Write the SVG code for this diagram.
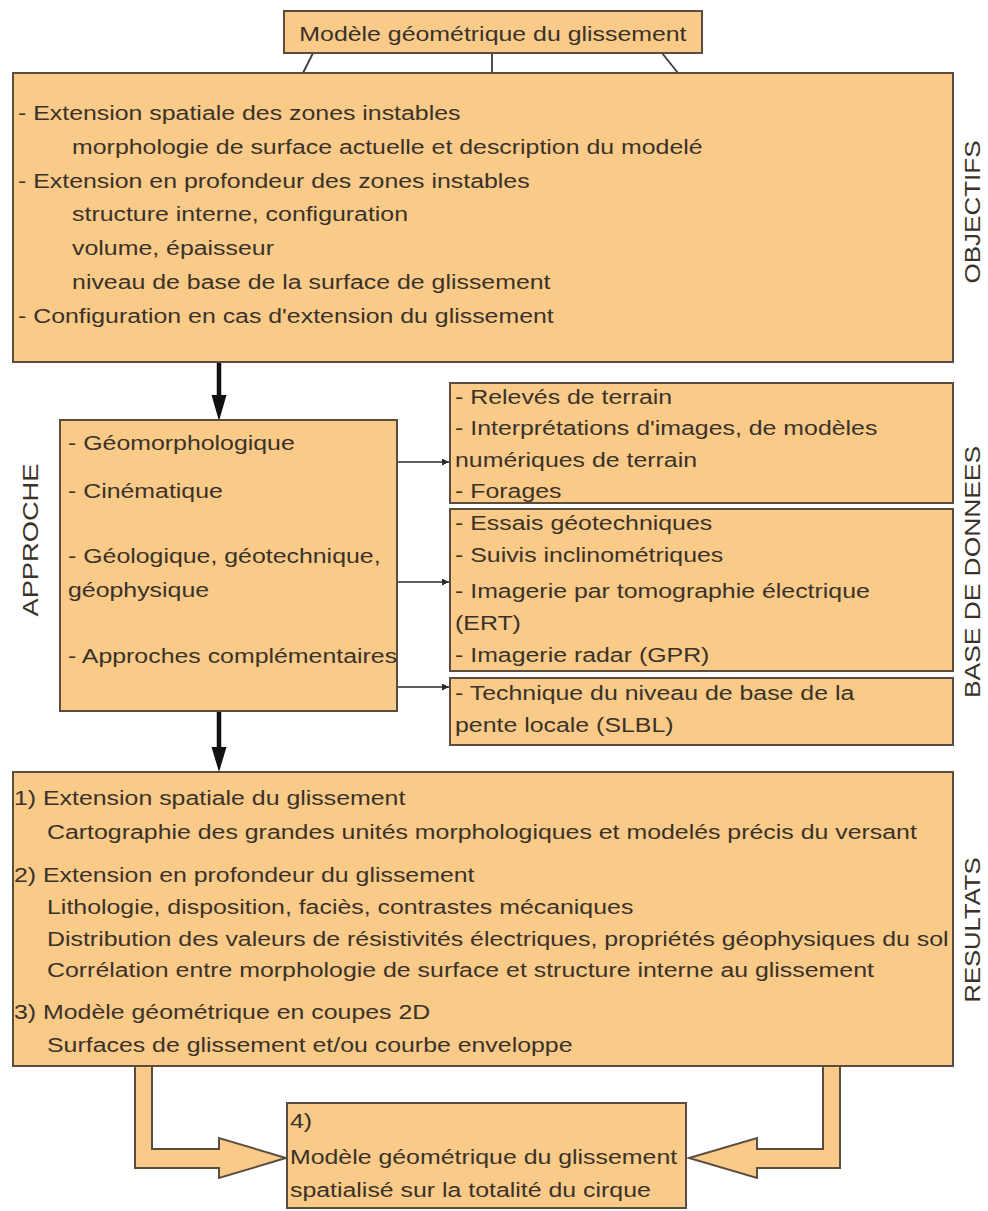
<svg xmlns="http://www.w3.org/2000/svg" width="988" height="1211" viewBox="0 0 988 1211">
<defs>
<style>
.box{fill:#F9CA88;stroke:#5a4c3e;stroke-width:2}
.t{font-family:"Liberation Sans",Arial,sans-serif;font-size:21px;fill:#3a3228}
.lbl{font-family:"Liberation Sans",Arial,sans-serif;font-size:22px;fill:#3a3228;text-anchor:middle}
.thin{stroke:#2a2a2a;stroke-width:1.6;fill:none}
.thick{stroke:#111;stroke-width:4.5;fill:none}
.tie{stroke:#3a3a3a;stroke-width:1.8;fill:none}
.hollow{fill:#F9CA88;stroke:#5a4c3e;stroke-width:2;stroke-linejoin:miter}
</style>
<marker id="ah" viewBox="0 0 10 10" refX="10" refY="5" markerWidth="10" markerHeight="7" markerUnits="userSpaceOnUse" orient="auto"><path d="M0,0 L10,5 L0,10 z" fill="#2a2a2a"/></marker>
</defs>
<rect width="988" height="1211" fill="#ffffff"/>

<g id="connectors">
<line class="tie" x1="313" y1="53" x2="303" y2="73"/>
<line class="tie" x1="492" y1="53" x2="492" y2="73"/>
<line class="tie" x1="662" y1="53" x2="678" y2="73"/>
<line class="thick" x1="219" y1="363" x2="219" y2="398"/>
<polygon points="211.5,395 226.5,395 219,421" fill="#111"/>
<line class="thick" x1="219" y1="711" x2="219" y2="750"/>
<polygon points="211.5,747 226.5,747 219,772" fill="#111"/>
<line class="thin" x1="375" y1="462" x2="449" y2="462" marker-end="url(#ah)"/>
<line class="thin" x1="375" y1="582" x2="449" y2="582" marker-end="url(#ah)"/>
<line class="thin" x1="375" y1="687" x2="449" y2="687" marker-end="url(#ah)"/>
<polygon class="hollow" points="135,1066 135,1168 219,1168 219,1178 286,1158 219,1138 219,1149 152,1149 152,1066"/>
<polygon class="hollow" points="840,1066 840,1168 757,1168 757,1178 689,1158 757,1138 757,1149 823,1149 823,1066"/>
</g>

<g id="title">
<rect class="box" x="284" y="11" width="418" height="42"/>
<g transform="scale(1.185 1)"><text class="t" x="416" y="41" text-anchor="middle">Modèle géométrique du glissement</text></g>
</g>

<g id="objectifs">
<rect class="box" x="13" y="73" width="940" height="289"/>
<g transform="scale(1.185 1)">
<text class="t" x="15.2" y="120">- Extension spatiale des zones instables</text>
<text class="t" x="60.8" y="154">morphologie de surface actuelle et description du modelé</text>
<text class="t" x="15.2" y="188">- Extension en profondeur des zones instables</text>
<text class="t" x="60.8" y="221">structure interne, configuration</text>
<text class="t" x="60.8" y="255">volume, épaisseur</text>
<text class="t" x="60.8" y="289">niveau de base de la surface de glissement</text>
<text class="t" x="15.2" y="323">- Configuration en cas d'extension du glissement</text>
</g>
</g>
<g id="label-objectifs"><text class="lbl" transform="translate(980 212) rotate(-90)" textLength="143" lengthAdjust="spacingAndGlyphs">OBJECTIFS</text></g>

<g id="approche">
<rect class="box" x="60" y="420" width="337" height="291"/>
<g transform="scale(1.185 1)">
<text class="t" x="57.4" y="450">- Géomorphologique</text>
<text class="t" x="57.4" y="498">- Cinématique</text>
<text class="t" x="57.4" y="563">- Géologique, géotechnique,</text>
<text class="t" x="57.4" y="597">géophysique</text>
<text class="t" x="57.4" y="663">- Approches complémentaires</text>
</g>
</g>
<g id="label-approche"><text class="lbl" transform="translate(38 540) rotate(-90)" textLength="153" lengthAdjust="spacingAndGlyphs">APPROCHE</text></g>

<g id="donnees-1">
<rect class="box" x="450" y="383" width="503" height="120"/>
<g transform="scale(1.185 1)">
<text class="t" x="384" y="404">- Relevés de terrain</text>
<text class="t" x="384" y="435">- Interprétations d'images, de modèles</text>
<text class="t" x="384" y="467">numériques de terrain</text>
<text class="t" x="384" y="498">- Forages</text>
</g>
</g>
<g id="donnees-2">
<rect class="box" x="450" y="509" width="503" height="162"/>
<g transform="scale(1.185 1)">
<text class="t" x="384" y="530">- Essais géotechniques</text>
<text class="t" x="384" y="562">- Suivis inclinométriques</text>
<text class="t" x="384" y="598">- Imagerie par tomographie électrique</text>
<text class="t" x="384" y="630">(ERT)</text>
<text class="t" x="384" y="662">- Imagerie radar (GPR)</text>
</g>
</g>
<g id="donnees-3">
<rect class="box" x="450" y="678" width="503" height="67"/>
<g transform="scale(1.185 1)">
<text class="t" x="384" y="700">- Technique du niveau de base de la</text>
<text class="t" x="384" y="732">pente locale (SLBL)</text>
</g>
</g>
<g id="label-donnees"><text class="lbl" transform="translate(980 572) rotate(-90)" textLength="252" lengthAdjust="spacingAndGlyphs">BASE DE DONNEES</text></g>

<g id="resultats">
<rect class="box" x="13" y="772" width="940" height="294"/>
<g transform="scale(1.185 1)">
<text class="t" x="11.8" y="805">1) Extension spatiale du glissement</text>
<text class="t" x="39.7" y="839">Cartographie des grandes unités morphologiques et modelés précis du versant</text>
<text class="t" x="11.8" y="882">2) Extension en profondeur du glissement</text>
<text class="t" x="39.7" y="914">Lithologie, disposition, faciès, contrastes mécaniques</text>
<text class="t" x="39.7" y="946">Distribution des valeurs de résistivités électriques, propriétés géophysiques du sol</text>
<text class="t" x="39.7" y="977">Corrélation entre morphologie de surface et structure interne au glissement</text>
<text class="t" x="11.8" y="1019">3) Modèle géométrique en coupes 2D</text>
<text class="t" x="39.7" y="1052">Surfaces de glissement et/ou courbe enveloppe</text>
</g>
</g>
<g id="label-resultats"><text class="lbl" transform="translate(980 930) rotate(-90)" textLength="145" lengthAdjust="spacingAndGlyphs">RESULTATS</text></g>

<g id="final">
<rect class="box" x="287" y="1103" width="399" height="105"/>
<g transform="scale(1.185 1)">
<text class="t" x="244.7" y="1128">4)</text>
<text class="t" x="244.7" y="1164">Modèle géométrique du glissement</text>
<text class="t" x="244.7" y="1197">spatialisé sur la totalité du cirque</text>
</g>
</g>
</svg>
